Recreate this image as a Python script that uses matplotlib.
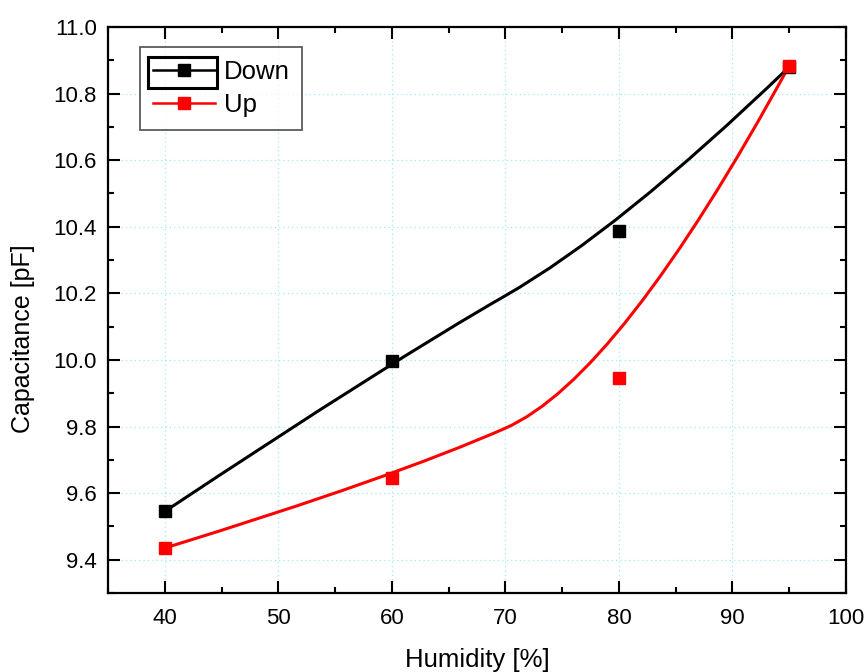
import matplotlib

matplotlib.use("Agg")
import matplotlib.pyplot as plt
from matplotlib.lines import Line2D
from matplotlib.patches import PathPatch, Rectangle
from matplotlib.path import Path
from matplotlib.ticker import MultipleLocator


humidity = [40, 60, 80, 95]
cap_down = [9.545, 9.998, 10.388, 10.880]
cap_up = [9.435, 9.645, 9.945, 10.884]

SERIES_LABELS = ["Down", "Up"]
SERIES_COLORS = ["black", "red"]


def bspline_path(x, y):
    # quadratic open B-spline with the points as control points (Origin "B-Spline" connect)
    verts = [(x[0], y[0]), (x[1], y[1])]
    codes = [Path.MOVETO, Path.CURVE3]
    for i in range(1, len(x) - 2):
        verts.append(((x[i] + x[i + 1]) / 2, (y[i] + y[i + 1]) / 2))
        verts.append((x[i + 1], y[i + 1]))
        codes += [Path.CURVE3, Path.CURVE3]
    verts.append((x[-1], y[-1]))
    codes.append(Path.CURVE3)
    return Path(verts, codes)


def main() -> None:
    plt.rcParams["font.family"] = ["Liberation Sans", "DejaVu Sans"]

    fig = plt.figure(figsize=(8.66, 6.72), dpi=100)
    ax = fig.add_axes([108 / 866, 1 - 593 / 672, 738 / 866, 566 / 672])

    handles = []
    for ys, label, color in zip([cap_down, cap_up], SERIES_LABELS, SERIES_COLORS):
        ax.add_patch(PathPatch(bspline_path(humidity, ys), facecolor="none",
                               edgecolor=color, lw=2.2, zorder=3))
        ax.plot(humidity, ys, "s", color=color, markersize=8.8, zorder=4)
        handles.append(Line2D([], [], color=color, lw=1.8, marker="s", markersize=9, label=label))

    ax.set_xlim(35, 100)
    ax.set_ylim(9.3, 11.0)
    ax.xaxis.set_major_locator(MultipleLocator(10))
    ax.xaxis.set_minor_locator(MultipleLocator(5))
    ax.yaxis.set_major_locator(MultipleLocator(0.2))
    ax.yaxis.set_minor_locator(MultipleLocator(0.1))
    ax.set_xticks([40, 50, 60, 70, 80, 90, 100])
    ax.set_yticks([9.4, 9.6, 9.8, 10.0, 10.2, 10.4, 10.6, 10.8, 11.0])
    ax.yaxis.set_major_formatter(lambda v, _: f"{v:.1f}")

    ax.tick_params(which="both", direction="in", top=True, right=True, width=1.5)
    ax.tick_params(which="major", length=8.5, labelsize=16)
    ax.tick_params(which="minor", length=4)
    ax.tick_params(axis="x", pad=11)
    ax.tick_params(axis="y", pad=8)
    for spine in ax.spines.values():
        spine.set_linewidth(1.6)

    ax.grid(which="major", color="#9BEDF3", lw=0.9, ls=(0, (1, 2.5)))
    ax.set_axisbelow(True)

    ax.set_xlabel("Humidity [%]", fontsize=18.5)
    ax.set_ylabel("Capacitance [pF]", fontsize=18)
    ax.xaxis.set_label_coords(0.5, -0.097)
    ax.yaxis.set_label_coords(-0.099, 0.45)

    leg = ax.legend(handles=handles, loc="upper left", bbox_to_anchor=(32 / 738, 1 - 20 / 566),
                    fontsize=18.5, frameon=True, fancybox=False, edgecolor="#333333",
                    handlelength=2.4, handletextpad=0.35, labelspacing=0.37,
                    borderpad=0.5, borderaxespad=0)
    leg.get_frame().set_linewidth(1.3)

    # selection box around the first legend entry, as in the original screenshot
    ax.add_patch(Rectangle((40 / 738, (593 - 88.3) / 566), 69 / 738, 31.6 / 566,
                           transform=ax.transAxes, facecolor="none", edgecolor="black",
                           lw=2.2, zorder=10, clip_on=False))

    fig.savefig("out.png", dpi=100)
    plt.close(fig)


if __name__ == "__main__":
    main()
